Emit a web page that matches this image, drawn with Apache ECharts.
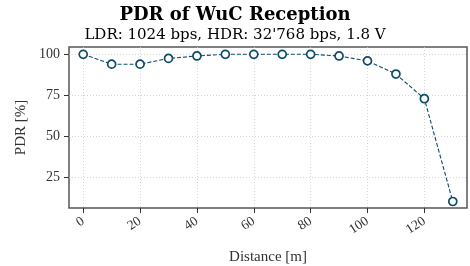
<!DOCTYPE html>
<html>
<head>
<meta charset="utf-8">
<script src="https://cdn.jsdelivr.net/npm/echarts@6/dist/echarts.min.js"></script>
<style>
  html, body { margin: 0; padding: 0; background: #fff; }
  #chart { width: 470px; height: 266px; }
</style>
</head>
<body>
<div id="chart"></div>
<script>
// Distanz in m
const distances = [0, 10, 20, 30, 40, 50, 60, 70, 80, 90, 100, 110, 120, 130];
// PDR in %
const pdrValues = [100, 94, 94, 97.5, 99, 100, 100, 100, 100, 99, 96, 88, 73, 10.5];
const xTicks = [0, 20, 40, 60, 80, 100, 120];
const yTicks = [25, 50, 75, 100];

const lineColor = '#0e4c6b';
const font = 'Liberation Serif';
const titleFont = 'DejaVu Serif';

const chart = echarts.init(document.getElementById('chart'));

const option = {
  animation: false,
  title: [
    {
      text: 'PDR of WuC Reception',
      left: 'center',
      top: 1,
      textStyle: { fontFamily: titleFont, fontSize: 18, fontWeight: 'bold', color: '#000' }
    },
    {
      text: "LDR: 1024 bps, HDR: 32'768 bps, 1.8 V",
      left: 'center',
      top: 23,
      textStyle: { fontFamily: titleFont, fontSize: 15, fontWeight: 'normal', color: '#000' }
    }
  ],
  grid: {
    left: 69,
    right: 3,
    top: 47,
    bottom: 58,
    outerBoundsMode: 'none',
    containLabel: false,
    show: true,
    borderColor: '#555',
    borderWidth: 1.5,
    backgroundColor: 'transparent'
  },
  xAxis: {
    type: 'value',
    min: -5,
    max: 135,
    name: 'Distance [m]',
    nameLocation: 'middle',
    nameGap: 42,
    nameTextStyle: { fontFamily: font, fontSize: 15, color: '#333' },
    axisLine: { show: false, onZero: false },
    axisTick: { show: true, inside: false, length: 5, lineStyle: { color: '#333', width: 1 }, customValues: xTicks },
    axisLabel: {
      rotate: 33,
      fontFamily: font,
      fontSize: 13.5,
      color: '#333',
      margin: 12,
      customValues: xTicks
    },
    splitLine: { show: true, lineStyle: { color: '#ccc', type: [1, 2], width: 0.8 } }
  },
  yAxis: {
    type: 'value',
    min: 6.55,
    max: 104.45,
    name: 'PDR [%]',
    nameLocation: 'middle',
    nameGap: 38,
    nameTextStyle: { fontFamily: font, fontSize: 15, color: '#333' },
    axisLine: { show: false, onZero: false },
    axisTick: { show: true, inside: false, length: 5, lineStyle: { color: '#333', width: 1 }, customValues: yTicks },
    axisLabel: { fontFamily: font, fontSize: 14, color: '#333', margin: 9, customValues: yTicks },
    splitLine: { show: true, lineStyle: { color: '#ccc', type: [1, 2], width: 0.8 } }
  },
  series: [
    {
      type: 'line',
      data: distances.map((d, i) => [d, pdrValues[i]]),
      symbol: 'circle',
      symbolSize: 8,
      lineStyle: { color: lineColor, width: 1.1, type: [4, 2] },
      itemStyle: { color: '#fff', borderColor: lineColor, borderWidth: 1.7 }
    }
  ]
};

chart.setOption(option);
</script>
</body>
</html>
